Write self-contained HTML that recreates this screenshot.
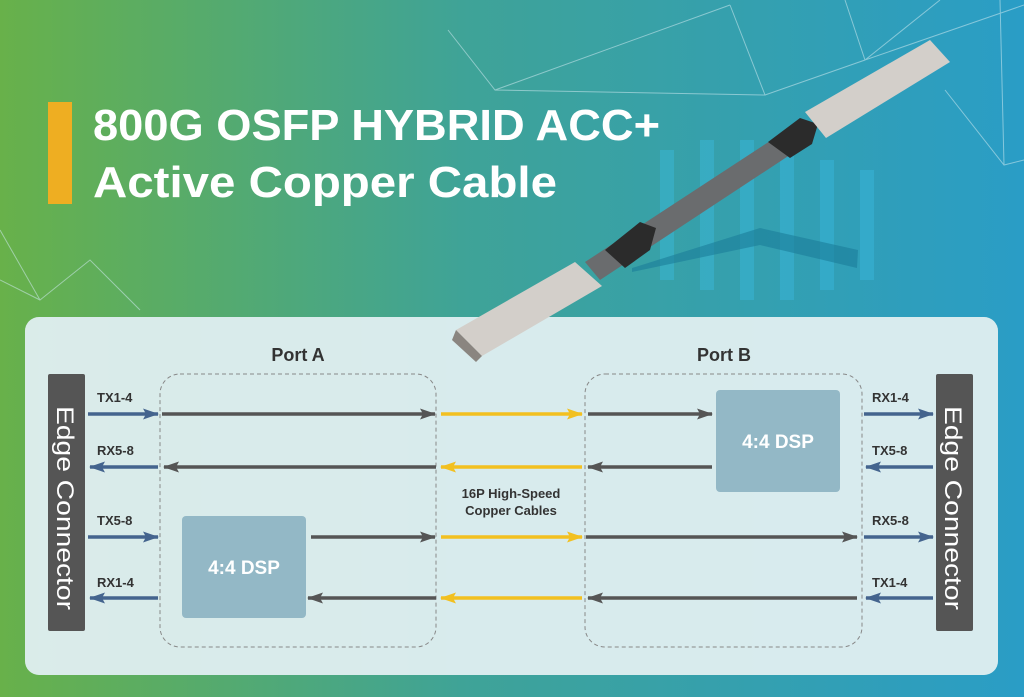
<!DOCTYPE html>
<html><head><meta charset="utf-8"><style>
html,body{margin:0;padding:0;width:1024px;height:697px;overflow:hidden;}
svg{display:block;font-family:"Liberation Sans",sans-serif;}
</style></head><body>
<svg width="1024" height="697" viewBox="0 0 1024 697">
<defs>
<linearGradient id="bg" x1="0" y1="0" x2="1" y2="0">
<stop offset="0" stop-color="#68b14a"/><stop offset="0.45" stop-color="#3fa397"/><stop offset="1" stop-color="#2a9dc6"/>
</linearGradient>
<marker id="ag" markerWidth="16" markerHeight="11" refX="15" refY="5.5" orient="auto" markerUnits="userSpaceOnUse"><path d="M0,0 L16,5.5 L0,11 L3,5.5 Z" fill="#555"/></marker>
<marker id="ab" markerWidth="16" markerHeight="11" refX="15" refY="5.5" orient="auto" markerUnits="userSpaceOnUse"><path d="M0,0 L16,5.5 L0,11 L3,5.5 Z" fill="#44648e"/></marker>
<marker id="ay" markerWidth="16" markerHeight="11" refX="15" refY="5.5" orient="auto" markerUnits="userSpaceOnUse"><path d="M0,0 L16,5.5 L0,11 L3,5.5 Z" fill="#f2c020"/></marker>
</defs>
<rect width="1024" height="697" fill="url(#bg)"/>
<g stroke="#cfeaf0" stroke-opacity="0.55" stroke-width="1" fill="none">
<path d="M448,30 L495,90 L730,5 M495,90 L765,95 L730,5 M765,95 L865,60 L940,0 M845,0 L865,60 L1024,5 M945,90 L1004,165 L1024,160 M1000,0 L1004,165 M0,230 L40,300 L90,260 L140,310 M0,280 L40,300"/>
</g>
<g fill="#3cc0ea" fill-opacity="0.35">
<rect x="660" y="150" width="14" height="130"/><rect x="700" y="140" width="14" height="150"/><rect x="740" y="140" width="14" height="160"/><rect x="780" y="150" width="14" height="150"/><rect x="820" y="160" width="14" height="130"/><rect x="860" y="170" width="14" height="110"/>
</g>
<path d="M632,268 L760,228 L858,250 L857,268 L760,245 L632,272 Z" fill="#1b7d9a" fill-opacity="0.6"/>
<rect x="48" y="102" width="24" height="102" fill="#eeae22"/>
<text x="93" y="140" font-size="44" font-weight="bold" fill="#fff" textLength="567" lengthAdjust="spacingAndGlyphs">800G OSFP HYBRID ACC+</text>
<text x="93" y="197" font-size="44" font-weight="bold" fill="#fff" textLength="464" lengthAdjust="spacingAndGlyphs">Active Copper Cable</text>
<!-- cable -->
<path d="M585,262 L790,128 L805,145 L600,280 Z" fill="#6a6c6e"/>
<path d="M605,250 L640,222 L656,228 L650,250 L625,268 Z" fill="#2b2b2b"/>
<path d="M768,142 L800,118 L818,124 L812,144 L790,158 Z" fill="#2b2b2b"/>
<path d="M805,112 L930,40 L950,62 L826,138 Z" fill="#d3cfca"/>
<!-- panel -->
<rect x="25" y="317" width="973" height="358" rx="14" fill="#e2f1ef" fill-opacity="0.93"/>
<rect x="25" y="317" width="973" height="358" rx="14" fill="#dcecf2" fill-opacity="0.4"/>
<path d="M456,330 L575,262 L602,286 L482,356 Z" fill="#d3cfca"/>
<path d="M456,330 L482,356 L476,362 L452,340 Z" fill="#8a8580"/>
<text x="298" y="361" font-size="18" font-weight="bold" fill="#333" text-anchor="middle">Port A</text>
<text x="724" y="361" font-size="18" font-weight="bold" fill="#333" text-anchor="middle">Port B</text>
<rect x="160" y="374" width="276" height="273" rx="20" fill="none" stroke="#888" stroke-dasharray="4,3"/>
<rect x="585" y="374" width="277" height="273" rx="20" fill="none" stroke="#888" stroke-dasharray="4,3"/>
<rect x="48" y="374" width="37" height="257" rx="2" fill="#555"/>
<rect x="936" y="374" width="37" height="257" rx="2" fill="#555"/>
<text transform="translate(57,508) rotate(90)" font-size="24" fill="#fff" text-anchor="middle" textLength="204" lengthAdjust="spacingAndGlyphs">Edge Connector</text>
<text transform="translate(945,508) rotate(90)" font-size="24" fill="#fff" text-anchor="middle" textLength="204" lengthAdjust="spacingAndGlyphs">Edge Connector</text>
<rect x="182" y="516" width="124" height="102" rx="4" fill="#93b8c6"/>
<rect x="716" y="390" width="124" height="102" rx="4" fill="#93b8c6"/>
<text x="244" y="574" font-size="19" font-weight="bold" fill="#fff" text-anchor="middle">4:4 DSP</text>
<text x="778" y="448" font-size="19" font-weight="bold" fill="#fff" text-anchor="middle">4:4 DSP</text>
<g font-size="13" font-weight="bold" fill="#333">
<text x="97" y="402">TX1-4</text><text x="97" y="455">RX5-8</text><text x="97" y="525">TX5-8</text><text x="97" y="587">RX1-4</text>
<text x="872" y="402">RX1-4</text><text x="872" y="455">TX5-8</text><text x="872" y="525">RX5-8</text><text x="872" y="587">TX1-4</text>
</g>
<text x="511" y="498" font-size="13" font-weight="bold" fill="#333" text-anchor="middle">16P High-Speed</text>
<text x="511" y="515" font-size="13" font-weight="bold" fill="#333" text-anchor="middle">Copper Cables</text>
<g stroke-width="3.5">
<g stroke="#44648e">
<line x1="88" y1="414" x2="158" y2="414" marker-end="url(#ab)"/>
<line x1="158" y1="467" x2="90" y2="467" marker-end="url(#ab)"/>
<line x1="88" y1="537" x2="158" y2="537" marker-end="url(#ab)"/>
<line x1="158" y1="598" x2="90" y2="598" marker-end="url(#ab)"/>
<line x1="864" y1="414" x2="933" y2="414" marker-end="url(#ab)"/>
<line x1="933" y1="467" x2="866" y2="467" marker-end="url(#ab)"/>
<line x1="864" y1="537" x2="933" y2="537" marker-end="url(#ab)"/>
<line x1="933" y1="598" x2="866" y2="598" marker-end="url(#ab)"/>
</g>
<g stroke="#555">
<line x1="162" y1="414" x2="435" y2="414" marker-end="url(#ag)"/>
<line x1="436" y1="467" x2="164" y2="467" marker-end="url(#ag)"/>
<line x1="311" y1="537" x2="435" y2="537" marker-end="url(#ag)"/>
<line x1="436" y1="598" x2="308" y2="598" marker-end="url(#ag)"/>
<line x1="588" y1="414" x2="712" y2="414" marker-end="url(#ag)"/>
<line x1="712" y1="467" x2="588" y2="467" marker-end="url(#ag)"/>
<line x1="586" y1="537" x2="857" y2="537" marker-end="url(#ag)"/>
<line x1="857" y1="598" x2="588" y2="598" marker-end="url(#ag)"/>
</g>
<g stroke="#f2c020">
<line x1="441" y1="414" x2="582" y2="414" marker-end="url(#ay)"/>
<line x1="582" y1="467" x2="441" y2="467" marker-end="url(#ay)"/>
<line x1="441" y1="537" x2="582" y2="537" marker-end="url(#ay)"/>
<line x1="582" y1="598" x2="441" y2="598" marker-end="url(#ay)"/>
</g>
</g>
</svg>
</body></html>
